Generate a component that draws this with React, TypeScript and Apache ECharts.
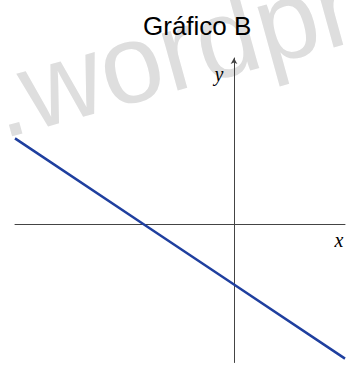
import React, { useEffect, useRef } from "react";
import * as echarts from "echarts";

const titleText = "Gráfico B";
const watermarkText = ".wordpr";
const xAxisLabel = "x";
const yAxisLabel = "y";
const xRange = [-7.3, 3.7];
const yRange = [-4.6, 5.55];
// points
const lineX = [-7.3, -3, 0, 3.7];
const lineY = [2.87, 0, -2, -4.47];

export default function App() {
  const ref = useRef<HTMLDivElement>(null);
  useEffect(() => {
    if (!ref.current) return;
    const chart = echarts.init(ref.current, null, { renderer: "svg" });
    chart.setOption({
      animation: false,
      backgroundColor: "#ffffff",
      title: {
        text: titleText,
        left: 143,
        top: 13,
        padding: 0,
        textStyle: {
          fontFamily: "Liberation Sans, Arial, sans-serif",
          fontSize: 26,
          fontWeight: "normal",
          color: "#000000",
          lineHeight: 26,
        },
        z: 10,
      },
      grid: { left: 15, right: 2, top: 58, bottom: 2.5 },
      xAxis: {
        type: "value",
        min: xRange[0],
        max: xRange[1],
        axisLine: { show: true, onZero: true, lineStyle: { color: "#444444", width: 1 } },
        axisTick: { show: false },
        axisLabel: { show: false },
        splitLine: { show: false },
      },
      yAxis: {
        type: "value",
        min: yRange[0],
        max: yRange[1],
        axisLine: {
          show: true,
          onZero: true,
          symbol: ["none", "arrow"],
          symbolSize: [5, 6],
          lineStyle: { color: "#444444", width: 1 },
        },
        axisTick: { show: false },
        axisLabel: { show: false },
        splitLine: { show: false },
      },
      graphic: [
        {
          type: "text",
          x: 7,
          y: 156,
          rotation: 0.27,
          z: -10,
          silent: true,
          style: {
            text: watermarkText,
            font: "112px 'Liberation Sans', Arial, sans-serif",
            fill: "#dedede",
            align: "left",
            verticalAlign: "bottom",
          },
        },
        {
          type: "text",
          x: 219,
          y: 74,
          z: 10,
          style: {
            text: yAxisLabel,
            font: "italic 20px 'Liberation Serif', 'Times New Roman', serif",
            fill: "#000000",
            align: "center",
            verticalAlign: "middle",
          },
        },
        {
          type: "text",
          x: 339,
          y: 240,
          z: 10,
          style: {
            text: xAxisLabel,
            font: "italic 20px 'Liberation Serif', 'Times New Roman', serif",
            fill: "#000000",
            align: "center",
            verticalAlign: "middle",
          },
        },
      ],
      series: [
        {
          type: "line",
          data: lineX.map((x, i) => [x, lineY[i]]),
          symbol: "none",
          lineStyle: { color: "#1f3f9f", width: 2.5 },
          z: 5,
        },
      ],
    });
    return () => chart.dispose();
  }, []);
  return (
    <div
      ref={ref}
      style={{ position: "fixed", left: 0, top: 0, width: 347, height: 365 }}
    />
  );
}
